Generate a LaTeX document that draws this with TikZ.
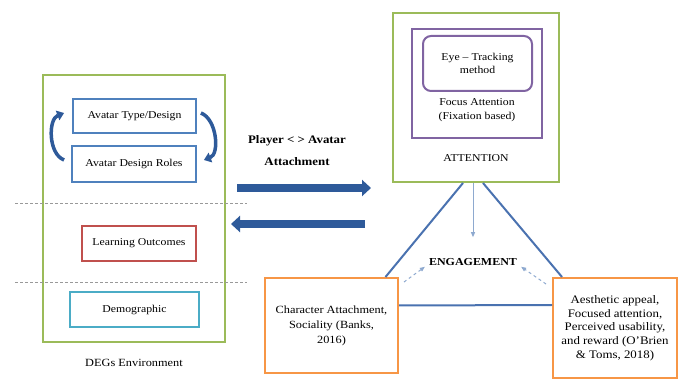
\documentclass[tikz,border=0pt]{standalone}
\usepackage{color}
\usepackage{fontspec}
\setmainfont[FakeStretch=1.12]{Liberation Serif}
\usepackage{tikz}
\usetikzlibrary{positioning, shapes, arrows.meta}

\definecolor{envgreen}{HTML}{9BBB59}
\definecolor{boxblue}{HTML}{4F81BD}
\definecolor{boxred}{HTML}{C0504D}
\definecolor{boxcyan}{HTML}{4BACC6}
\definecolor{boxpurple}{HTML}{8064A2}
\definecolor{boxorange}{HTML}{F79646}
\definecolor{darkarrow}{HTML}{2E5A9A}
\definecolor{triblue}{HTML}{4A72B0}
\definecolor{softblue}{HTML}{8EA9CF}

\begin{document}
\begin{tikzpicture}[x=1pt, y=-1pt]
% Define block styles
\tikzstyle{frame} = [rectangle, draw=envgreen, line width=2pt, inner sep=0pt]
\tikzstyle{block} = [rectangle, draw, line width=1.8pt, inner sep=0pt,
    align=center, font=\fontsize{10.5}{12.5}\selectfont]
\tikzstyle{source} = [rectangle, draw=boxorange, line width=2pt, inner sep=0pt,
    align=center]
\tikzstyle{label} = [inner sep=1pt, align=center, font=\fontsize{11}{13}\selectfont]
\tikzstyle{cycle} = [draw=darkarrow, line width=3.5pt, -{Triangle[length=7pt,width=10pt]}]
\tikzstyle{bigarrow} = [draw=darkarrow, line width=8pt, -{Triangle[length=9pt,width=16pt]}]
\tikzstyle{sep} = [draw=gray!80, line width=1pt, densely dashed]
\tikzstyle{side} = [draw=triblue, line width=2pt]
\tikzstyle{link} = [draw=softblue, line width=1pt, -{Triangle[length=5pt,width=4pt]}]
\useasboundingbox (0,0) rectangle (678,379);
    % Place nodes
    \node [frame, minimum width=182pt, minimum height=267pt] (env) at (134,208.5) {};
    \node [block, draw=boxblue, minimum width=123pt, minimum height=34pt] (typ) at (134.5,116) {Avatar Type/Design};
    \node [block, draw=boxblue, minimum width=124pt, minimum height=36pt] (roles) at (134,164) {Avatar Design Roles};
    \node [block, draw=boxred, minimum width=114pt, minimum height=35pt] (learn) at (139,243.5) {Learning Outcomes};
    \node [block, draw=boxcyan, minimum width=129pt, minimum height=35pt] (demo) at (134.5,309.5) {Demographic};
    \node [label, font=\fontsize{11}{13}\selectfont] (envlabel) at (134,363) {DEGs Environment};
    \node [label, font=\bfseries\fontsize{11.5}{22}\selectfont] (title) at (297,151) {Player < > Avatar\\Attachment};
    \node [frame, minimum width=166pt, minimum height=169pt] (att) at (476,97.5) {};
    \node [rectangle, draw=boxpurple, line width=2.5pt, minimum width=130pt, minimum height=109pt] (focus) at (477,83.5) {};
    \node [rectangle, draw=boxpurple, line width=2pt, rounded corners=8pt, minimum width=109pt,
        minimum height=55pt, align=center, font=\fontsize{10.5}{13}\selectfont] (eye) at (477.5,63.5) {Eye -- Tracking\\method};
    \node [label, font=\fontsize{10.5}{14.5}\selectfont] (focustext) at (477,110) {Focus Attention\\(Fixation based)};
    \node [label, font=\fontsize{10.5}{13}\selectfont] (attlabel) at (476,158) {ATTENTION};
    \node [label, font=\bfseries\fontsize{10.7}{13}\selectfont] (eng) at (473,262) {ENGAGEMENT};
    \node [source, minimum width=133pt, minimum height=95pt, font=\fontsize{11}{15}\selectfont] (charbox) at (331.5,325.5)
        {Character Attachment,\\Sociality (Banks,\\2016)};
    \node [source, minimum width=124pt, minimum height=100pt, font=\fontsize{11.5}{13.7}\selectfont] (aesbox) at (615,328)
        {Aesthetic appeal,\\Focused attention,\\Perceived usability,\\and reward (O'Brien\\\& Toms, 2018)};
    % Coordinates for free ends
    \coordinate (sepAL) at (15,204);
    \coordinate (sepAR) at (247,204);
    \coordinate (sepBL) at (15,283);
    \coordinate (sepBR) at (247,283);
    \coordinate (fwdS) at (237,188);
    \coordinate (fwdE) at (371,188);
    \coordinate (backS) at (365,224);
    \coordinate (backE) at (231,224);
    % Draw edges
    \path [sep] (sepAL) -- (sepAR);
    \path [sep] (sepBL) -- (sepBR);
    \path [cycle] ([xshift=-7pt,yshift=4pt]roles.west) .. controls +(-16,-6) and +(-16,6) .. ([xshift=-8pt,yshift=3pt]typ.west);
    \path [cycle] ([xshift=4pt,yshift=3pt]typ.east) .. controls +(16,6) and +(16,-6) .. ([xshift=7pt,yshift=4pt]roles.east);
    \path [bigarrow] (fwdS) -- (fwdE);
    \path [bigarrow] (backS) -- (backE);
    \path [side] ([xshift=-13pt]att.south) -- ([xshift=54pt]charbox.north);
    \path [side] ([xshift=7pt]att.south) -- ([xshift=10pt]aesbox.north west);
    \path [side] ([yshift=20pt]charbox.east) -- ([yshift=23pt]aesbox.west);
    \path [link] ([xshift=-3pt]att.south) -- ([shift={(0pt,20pt)}]eng.north);
    \path [link, dashed] ([xshift=5pt,yshift=-5pt]charbox.north east) -- ([xshift=-3pt]eng.south west);
    \path [link, dashed] ([xshift=-6pt,yshift=-7pt]aesbox.north west) -- ([xshift=3pt]eng.south east);
\end{tikzpicture}
\end{document}
